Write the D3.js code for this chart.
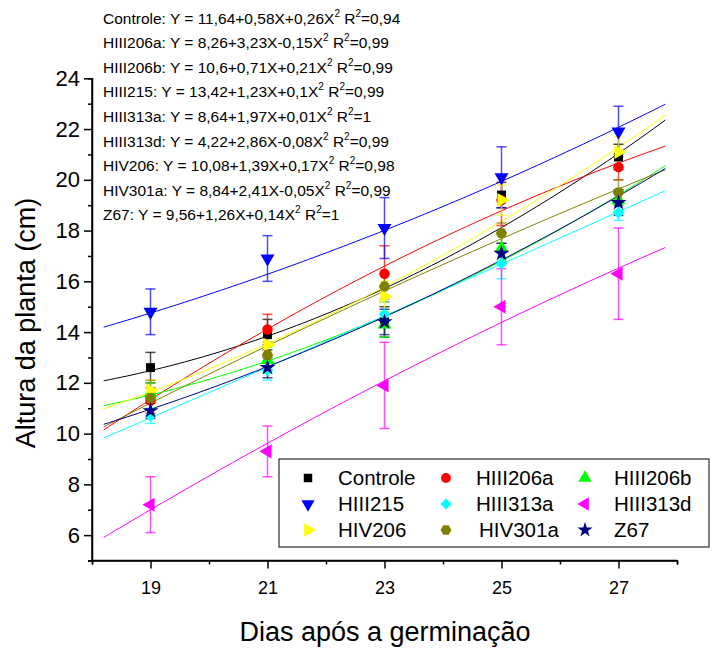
<!DOCTYPE html>
<html>
<head>
<meta charset="utf-8">
<script src="https://cdn.jsdelivr.net/npm/d3@7"></script>
<style>
  body { margin: 0; background: #fff; }
  svg text { font-family: "Liberation Sans", Arial, sans-serif; fill: #000; }
</style>
</head>
<body>
<div id="chart"></div>
<script>
// Days after germination
var days = [19, 21, 23, 25, 27];

var names = ["Controle", "HIII206a", "HIII206b", "HIII215", "HIII313a", "HIII313d", "HIV206", "HIV301a", "Z67"];
var colors = ["#000000", "#ff0000", "#00ff00", "#0000ff", "#00ffff", "#ff00ff", "#ffff00", "#808000", "#000080"];

// mean plant height (cm) per day
var controle = [12.6, 13.9, 14.4, 19.4, 20.9];
var hiii206a = [11.3, 14.1, 16.3, 19.2, 20.5];
var hiii206b = [11.6, 12.9, 14.3, 17.3, 19.2];
var hiii215  = [14.8, 16.9, 18.1, 20.1, 21.9];
var hiii313a = [10.7, 12.5, 14.7, 16.7, 18.7];
var hiii313d = [7.2, 9.3, 11.9, 15.0, 16.3];
var hiv206   = [11.7, 13.5, 15.4, 19.2, 21.1];
var hiv301a  = [11.4, 13.1, 15.8, 17.9, 19.5];
var z67      = [10.9, 12.6, 14.4, 17.1, 19.1];

// error bar half widths
var errControle = [0.6, 0.6, 0.6, 0.5, 0.5];
var errHiii206a = [0.5, 0.6, 1.1, 1.0, 0.5];
var errHiii206b = [0.4, 0.5, 0.5, 0.5, 0.4];
var errHiii215  = [0.9, 0.9, 1.2, 1.2, 1.0];
var errHiii313a = [0.3, 0.4, 0.5, 0.6, 0.3];
var errHiii313d = [1.1, 1.0, 1.7, 1.5, 1.8];
var errHiv206   = [0.4, 0.5, 0.6, 0.6, 0.6];
var errHiv301a  = [0.7, 0.5, 0.5, 0.4, 0.5];
var errZ67      = [0.3, 0.4, 0.5, 0.4, 0.5];

// quadratic fits Y = a + bX + cX^2 (X = 1..5 for days 19..27)
var fitA = [11.64, 8.26, 10.6, 13.42, 8.64, 4.22, 10.08, 8.84, 9.56];
var fitB = [0.58, 3.23, 0.71, 1.23, 1.97, 2.86, 1.39, 2.41, 1.26];
var fitC = [0.26, -0.15, 0.21, 0.1, 0.01, -0.08, 0.17, -0.05, 0.14];
var r2   = [0.94, 0.99, 0.99, 0.99, 1, 0.99, 0.98, 0.99, 1];

var yTicks = [6, 8, 10, 12, 14, 16, 18, 20, 22, 24];
var xTicks = [19, 21, 23, 25, 27];

var means = [controle, hiii206a, hiii206b, hiii215, hiii313a, hiii313d, hiv206, hiv301a, z67];
var errs = [errControle, errHiii206a, errHiii206b, errHiii215, errHiii313a, errHiii313d, errHiv206, errHiv301a, errZ67];

var width = 723, height = 648;
var svg = d3.select("#chart").append("svg")
  .attr("width", width)
  .attr("height", height);

var x = d3.scaleLinear().domain([18, 28]).range([92, 677]);
var y = d3.scaleLinear().domain([5, 24]).range([560.5, 78.3]);

// custom hexagon symbol
var symbolHexagon = {
  draw: function(context, size) {
    var r = Math.sqrt(size / (1.5 * Math.sqrt(3)));
    for (var i = 0; i < 6; i++) {
      var a = Math.PI / 3 * i;
      var px = r * Math.cos(a), py = r * Math.sin(a);
      if (i == 0) context.moveTo(px, py); else context.lineTo(px, py);
    }
    context.closePath();
  }
};

var shapes = [
  { type: d3.symbolSquare, size: 80, rot: 0 },
  { type: d3.symbolCircle, size: 85, rot: 0 },
  { type: d3.symbolTriangle, size: 85, rot: 0 },
  { type: d3.symbolTriangle, size: 85, rot: 180 },
  { type: d3.symbolSquare, size: 70, rot: 45 },
  { type: d3.symbolTriangle, size: 85, rot: -90 },
  { type: d3.symbolTriangle, size: 85, rot: 90 },
  { type: symbolHexagon, size: 85, rot: 0 },
  { type: d3.symbolStar, size: 80, rot: 0 }
];

// axes
var xAxis = d3.axisBottom(x).tickValues(xTicks).tickSize(8).tickPadding(13).tickFormat(d3.format("d"));
var xMinor = d3.axisBottom(x).tickValues([18, 20, 22, 24, 26, 28]).tickSize(4).tickFormat("");
var yAxis = d3.axisLeft(y).tickValues(yTicks).tickSize(8).tickPadding(4).tickFormat(d3.format("d"));
var yMinor = d3.axisLeft(y).tickValues([5, 7, 9, 11, 13, 15, 17, 19, 21, 23]).tickSize(4).tickFormat("");

function styleAxis(g, fs) {
  g.select(".domain").attr("stroke", "#000").attr("stroke-width", 1.5);
  g.selectAll(".tick line").attr("stroke", "#000").attr("stroke-width", 1.5);
  g.selectAll(".tick text").attr("font-size", fs).attr("font-family", "Liberation Sans, Arial");
}

var gx = svg.append("g").attr("transform", "translate(0," + y(5) + ")").call(xAxis);
styleAxis(gx, 18);
gx.select(".domain").attr("d", "M" + x(18) + ",0H" + x(28));
var gxm = svg.append("g").attr("transform", "translate(0," + y(5) + ")").call(xMinor);
styleAxis(gxm, 18);

var gy = svg.append("g").attr("transform", "translate(" + x(18) + ",0)").call(yAxis);
styleAxis(gy, 22);
gy.select(".domain").attr("d", "M0," + y(24) + "V" + y(5));
var gym = svg.append("g").attr("transform", "translate(" + x(18) + ",0)").call(yMinor);
styleAxis(gym, 22);

// axis titles
svg.append("text")
  .attr("x", 385).attr("y", 641)
  .attr("text-anchor", "middle")
  .attr("font-size", 27)
  .text("Dias após a germinação");

svg.append("text")
  .attr("transform", "translate(35,323) rotate(-90)")
  .attr("text-anchor", "middle")
  .attr("font-size", 27)
  .text("Altura da planta (cm)");

// fit curves
var line = d3.line().x(d => x(d[0])).y(d => y(d[1]));
var curveDays = d3.range(18.2, 27.81, 0.1);
var fits = svg.append("g");
for (var s = 0; s < names.length; s++) {
  var pts = curveDays.map(function(day) {
    var X = (day - 17) / 2;
    return [day, fitA[s] + fitB[s] * X + fitC[s] * X * X];
  });
  fits.append("path")
    .attr("d", line(pts))
    .attr("fill", "none")
    .attr("stroke", colors[s])
    .attr("stroke-width", 1);
}

// error bars and markers
var marks = svg.append("g");
for (var s = 0; s < names.length; s++) {
  var g = marks.append("g");
  var data = days.map((d, i) => ({ day: d, v: means[s][i], e: errs[s][i] }));
  g.selectAll("line.v").data(data).join("line")
    .attr("x1", d => x(d.day)).attr("x2", d => x(d.day))
    .attr("y1", d => y(d.v - d.e)).attr("y2", d => y(d.v + d.e))
    .attr("stroke", colors[s]).attr("stroke-opacity", 0.7).attr("stroke-width", 1.5);
  g.selectAll("line.top").data(data).join("line")
    .attr("x1", d => x(d.day) - 5).attr("x2", d => x(d.day) + 5)
    .attr("y1", d => y(d.v + d.e)).attr("y2", d => y(d.v + d.e))
    .attr("stroke", colors[s]).attr("stroke-opacity", 0.7).attr("stroke-width", 1.5);
  g.selectAll("line.bot").data(data).join("line")
    .attr("x1", d => x(d.day) - 5).attr("x2", d => x(d.day) + 5)
    .attr("y1", d => y(d.v - d.e)).attr("y2", d => y(d.v - d.e))
    .attr("stroke", colors[s]).attr("stroke-opacity", 0.7).attr("stroke-width", 1.5);
}
for (var s = 0; s < names.length; s++) {
  var sym = d3.symbol().type(shapes[s].type).size(shapes[s].size);
  var rot = shapes[s].rot;
  marks.append("g").selectAll("path").data(means[s]).join("path")
    .attr("d", sym)
    .attr("transform", (d, i) => "translate(" + x(days[i]) + "," + y(d) + ") rotate(" + rot + ")")
    .attr("fill", colors[s]);
}

// equations
var eq = svg.append("g");
function fmt(v) { return String(v).replace(".", ","); }
function sgn(v) { return (v < 0 ? "-" : "+") + fmt(Math.abs(v)); }
for (var s = 0; s < names.length; s++) {
  var t = eq.append("text")
    .attr("x", 103).attr("y", 23.5 + s * 24.6)
    .attr("font-size", 15.5);
  t.append("tspan").text(names[s] + ": Y = " + fmt(fitA[s]) + sgn(fitB[s]) + "X" + sgn(fitC[s]) + "X");
  t.append("tspan").attr("dy", -7).attr("font-size", 10).text("2");
  t.append("tspan").attr("dy", 7).text(" R");
  t.append("tspan").attr("dy", -7).attr("font-size", 10).text("2");
  t.append("tspan").attr("dy", 7).text("=" + fmt(r2[s]));
}

// legend
var leg = svg.append("g");
leg.append("rect")
  .attr("x", 279).attr("y", 459).attr("width", 430).attr("height", 88)
  .attr("fill", "#fff").attr("stroke", "#000").attr("stroke-width", 1);
var colMark = [308, 446, 585];
var colText = [338, 476, 614];
var rowY = [478, 504, 530];
names.forEach(function(n, i) {
  var r = Math.floor(i / 3), c = i % 3;
  leg.append("path")
    .attr("d", d3.symbol().type(shapes[i].type).size(shapes[i].size * 0.9))
    .attr("transform", "translate(" + colMark[c] + "," + rowY[r] + ") rotate(" + shapes[i].rot + ")")
    .attr("fill", colors[i]);
  leg.append("text")
    .attr("x", colText[c] + (i == 7 ? 3 : 0)).attr("y", rowY[r] + 7)
    .attr("font-size", 20.5)
    .text(n);
});
</script>
</body>
</html>
